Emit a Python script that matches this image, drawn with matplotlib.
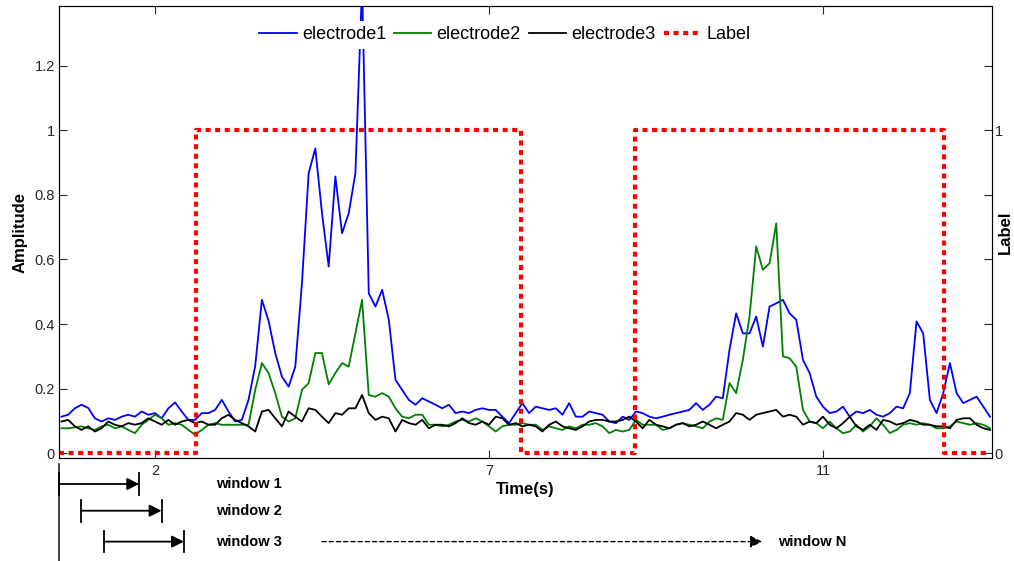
import numpy as np
import matplotlib
matplotlib.use('Agg')
import matplotlib.pyplot as plt

plt.rcParams['font.family'] = ['Liberation Sans', 'DejaVu Sans']

# sampling grid (s), one value every 0.1
time = np.round(np.linspace(0.6, 14.5, 140), 2)

electrode1 = [
    0.113, 0.119, 0.139, 0.150, 0.140, 0.108, 0.098, 0.108, 0.103, 0.113,
    0.119, 0.113, 0.129, 0.119, 0.124, 0.108, 0.139, 0.157, 0.129, 0.103,
    0.103, 0.124, 0.124, 0.134, 0.165, 0.129, 0.098, 0.103, 0.165, 0.270,
    0.475, 0.410, 0.310, 0.237, 0.206, 0.268, 0.526, 0.867, 0.944, 0.743,
    0.578, 0.857, 0.681, 0.743, 0.867, 1.450, 0.495, 0.454, 0.506, 0.413,
    0.227, 0.196, 0.165, 0.150, 0.170, 0.160, 0.150, 0.139, 0.150, 0.124,
    0.129, 0.124, 0.134, 0.139, 0.134, 0.134, 0.113, 0.093, 0.124, 0.155,
    0.124, 0.144, 0.139, 0.134, 0.139, 0.119, 0.155, 0.113, 0.113, 0.129,
    0.124, 0.119, 0.098, 0.093, 0.113, 0.103, 0.129, 0.124, 0.113, 0.108,
    0.113, 0.119, 0.124, 0.129, 0.134, 0.155, 0.134, 0.150, 0.175, 0.170,
    0.320, 0.433, 0.371, 0.371, 0.423, 0.330, 0.454, 0.464, 0.475, 0.433,
    0.413, 0.289, 0.248, 0.175, 0.144, 0.124, 0.129, 0.144, 0.113, 0.129,
    0.124, 0.134, 0.119, 0.113, 0.124, 0.144, 0.139, 0.186, 0.408, 0.371,
    0.165, 0.124, 0.186, 0.279, 0.186, 0.155, 0.165, 0.175, 0.144, 0.113,
]
electrode2 = [
    0.077, 0.077, 0.080, 0.083, 0.077, 0.072, 0.083, 0.088, 0.077, 0.083,
    0.072, 0.062, 0.088, 0.103, 0.119, 0.108, 0.088, 0.093, 0.088, 0.072,
    0.057, 0.072, 0.088, 0.093, 0.088, 0.088, 0.088, 0.088, 0.088, 0.196,
    0.279, 0.248, 0.186, 0.113, 0.098, 0.108, 0.196, 0.217, 0.310, 0.310,
    0.213, 0.248, 0.279, 0.268, 0.372, 0.475, 0.180, 0.175, 0.186, 0.175,
    0.139, 0.113, 0.108, 0.119, 0.119, 0.088, 0.088, 0.083, 0.088, 0.098,
    0.103, 0.098, 0.108, 0.098, 0.083, 0.067, 0.083, 0.088, 0.088, 0.093,
    0.088, 0.088, 0.072, 0.083, 0.077, 0.072, 0.083, 0.077, 0.088, 0.088,
    0.093, 0.083, 0.062, 0.072, 0.067, 0.072, 0.103, 0.088, 0.088, 0.088,
    0.072, 0.077, 0.088, 0.093, 0.088, 0.083, 0.077, 0.098, 0.108, 0.103,
    0.217, 0.186, 0.289, 0.423, 0.640, 0.568, 0.588, 0.712, 0.300, 0.294,
    0.268, 0.134, 0.098, 0.093, 0.077, 0.098, 0.077, 0.062, 0.067, 0.088,
    0.067, 0.083, 0.108, 0.088, 0.062, 0.072, 0.088, 0.093, 0.088, 0.093,
    0.088, 0.077, 0.077, 0.083, 0.098, 0.093, 0.088, 0.093, 0.088, 0.077,
]
electrode3 = [
    0.098, 0.103, 0.083, 0.072, 0.083, 0.067, 0.077, 0.098, 0.088, 0.083,
    0.093, 0.088, 0.093, 0.108, 0.098, 0.088, 0.103, 0.088, 0.098, 0.103,
    0.093, 0.098, 0.088, 0.088, 0.108, 0.119, 0.103, 0.093, 0.083, 0.067,
    0.129, 0.134, 0.108, 0.083, 0.129, 0.113, 0.098, 0.139, 0.134, 0.113,
    0.093, 0.124, 0.119, 0.139, 0.139, 0.180, 0.124, 0.103, 0.113, 0.108,
    0.067, 0.103, 0.093, 0.088, 0.103, 0.077, 0.088, 0.088, 0.083, 0.093,
    0.108, 0.093, 0.088, 0.098, 0.088, 0.113, 0.108, 0.088, 0.093, 0.083,
    0.088, 0.083, 0.067, 0.088, 0.098, 0.083, 0.077, 0.072, 0.083, 0.098,
    0.103, 0.103, 0.098, 0.098, 0.103, 0.113, 0.098, 0.077, 0.103, 0.088,
    0.083, 0.077, 0.088, 0.093, 0.083, 0.088, 0.098, 0.088, 0.077, 0.088,
    0.098, 0.124, 0.119, 0.103, 0.119, 0.124, 0.129, 0.134, 0.113, 0.119,
    0.113, 0.088, 0.098, 0.093, 0.113, 0.088, 0.077, 0.093, 0.113, 0.083,
    0.072, 0.088, 0.072, 0.103, 0.098, 0.088, 0.093, 0.103, 0.098, 0.088,
    0.088, 0.083, 0.083, 0.077, 0.103, 0.108, 0.108, 0.088, 0.077, 0.072,
]

# label switches (time where the label value starts)
label_t = [0.563, 2.62, 7.48, 9.19, 13.81, 14.47]
label_v = [0, 1, 0, 1, 0, 0]

series_names = ['electrode1', 'electrode2', 'electrode3', 'Label']
yticks = [0, 0.2, 0.4, 0.6, 0.8, 1.0, 1.2]
ytick_labels = ['0', '0.2', '0.4', '0.6', '0.8', '1', '1.2']
right_labels = ['0', '', '', '', '', '1', '']
xtick_pos = [2, 7, 12]
xtick_labels = ['2', '7', '11']
window_names = ['window 1', 'window 2', 'window 3']

fig = plt.figure(figsize=(10.14, 5.61), dpi=100)
ax = fig.add_axes([0.0582, 0.1836, 0.9201, 0.8057])

h1, = ax.plot(time, electrode1, color='#0000ff', lw=1.3)
h2, = ax.plot(time, electrode2, color='#008000', lw=1.3)
h3, = ax.plot(time, electrode3, color='#000000', lw=1.3)
h4, = ax.plot(label_t, label_v, color='#ff0000', lw=3, drawstyle='steps-post',
              linestyle=(0, (1.2, 1.1)), dash_capstyle='butt')

ax.set_xlim(0.563, 14.53)
ax.set_ylim(-0.015, 1.385)
ax.set_xticks(xtick_pos, xtick_labels)
ax.set_yticks(yticks, ytick_labels)
ax.tick_params(direction='in', length=6, width=0.8, colors='#262626',
               labelsize=10.5, top=True, pad=3)
ax.tick_params(axis='x', pad=4)
for s in ax.spines.values():
    s.set_color('#262626')
    s.set_linewidth(0.8)
ax.set_xlabel('Time(s)', fontsize=12, fontweight='bold', labelpad=3)
ax.set_ylabel('Amplitude', fontsize=12, fontweight='bold', labelpad=5)

ax2 = ax.twinx()
ax2.set_ylim(ax.get_ylim())
ax2.set_yticks(yticks, right_labels)
ax2.tick_params(direction='in', length=6, width=0.8, colors='#262626',
                labelsize=10.5, pad=2)
ax2.set_ylabel('Label', fontsize=12, fontweight='bold')
# keep the right label inside the figure edge
ax2.yaxis.set_label_coords(1.0145, 0.5)
ax2.yaxis.label.set_horizontalalignment('center')
ax2.yaxis.label.set_verticalalignment('center')

leg = ax2.legend([h1, h2, h3, h4], series_names, loc='center',
                 bbox_to_anchor=(0.478, 0.936), ncol=4, fontsize=13,
                 handlelength=2.05, handletextpad=0.3, columnspacing=0.45,
                 borderpad=0.3, frameon=True, fancybox=False, framealpha=1)
leg.get_frame().set_edgecolor('none')
leg.get_frame().set_facecolor('white')

# sliding window sketch under the axis
trans = ax.get_xaxis_transform()
win_x0 = ax.get_xlim()[0]
win_len = 1.2
win_step = 0.335
row_y = [-0.0575, -0.1166, -0.185]
bar_h = 0.024

ax.plot([win_x0, win_x0], [-0.013, -0.23], transform=trans, clip_on=False,
        color='#262626', lw=1.2)
for i, name in enumerate(window_names):
    x0 = win_x0 + i * win_step
    x1 = x0 + win_len
    y = row_y[i]
    for xb in (x0, x1):
        ax.plot([xb, xb], [y - bar_h, y + bar_h], transform=trans,
                clip_on=False, color='k', lw=1.3)
    ax.annotate('', xy=(x1, y), xytext=(x0, y), xycoords=trans,
                textcoords=trans, annotation_clip=False,
                arrowprops=dict(arrowstyle='-|>,head_length=0.6,head_width=0.3',
                                color='k', lw=1.3, shrinkA=0, shrinkB=0,
                                mutation_scale=12))
    ax.text(2.91, y, name, transform=trans, fontsize=10.5, fontweight='bold',
            va='center', ha='left')

ax.annotate('', xy=(11.09, row_y[2]), xytext=(4.5, row_y[2]), xycoords=trans,
            textcoords=trans, annotation_clip=False,
            arrowprops=dict(arrowstyle='-|>,head_length=0.6,head_width=0.3',
                            color='k', lw=1.0, linestyle=(0, (3, 2.2)),
                            shrinkA=0, shrinkB=0, mutation_scale=12))
ax.text(11.33, row_y[2], 'window N', transform=trans, fontsize=10.5,
        fontweight='bold', va='center', ha='left')

fig.savefig('out.png', dpi=100)
